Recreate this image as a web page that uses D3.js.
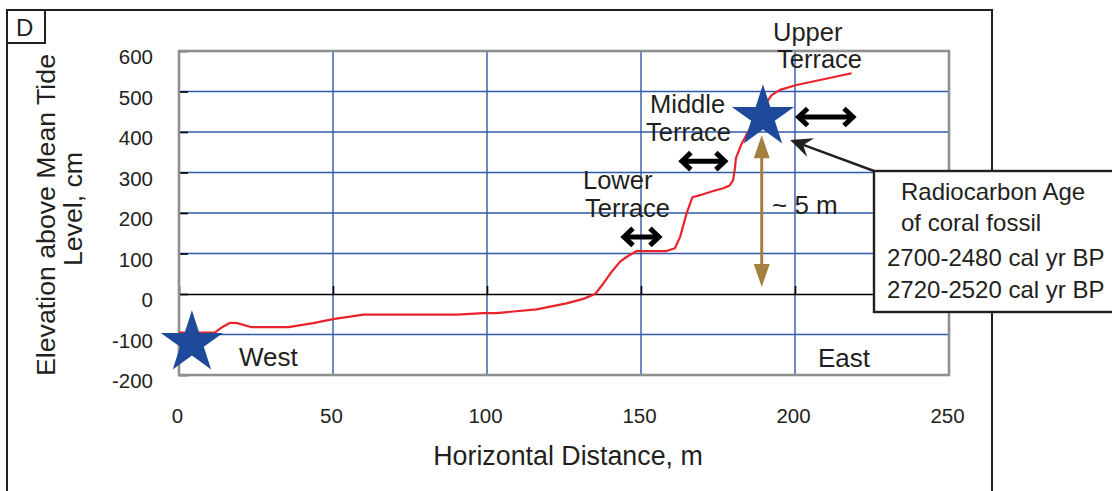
<!DOCTYPE html>
<html><head><meta charset="utf-8">
<script src="https://cdn.jsdelivr.net/npm/d3@7"></script>
<style>
body{margin:0;background:#fff;}
text{font-family:"Liberation Sans",Arial,Helvetica,sans-serif;fill:#231f20;}
</style></head>
<body><svg id="c" width="1112" height="491"></svg>
<script>
// ---- data ----
const xTicks = [0, 50, 100, 150, 200, 250];
const yTicks = [-200, -100, 0, 100, 200, 300, 400, 500, 600];
const profileDist = [0, 11.7, 14, 16.6, 18.9, 23.6, 35.5, 43.6, 50, 59.9, 82.6, 90.2, 98.8, 103.1, 116.1, 125.8, 131.3, 135.1, 137.8, 140.5, 143.2, 145.4, 148.6, 158.3, 161, 162.7, 164.8, 166.7, 169.2, 172.9, 176.7, 178.8, 179.9, 180.5, 180.8, 182.6, 184.8, 187, 189.5, 191.3, 192.4, 195.1, 200.5, 218.4];
const profileElev = [-95, -95, -82, -71, -72, -82, -82, -72, -62, -51, -51, -51, -47, -47, -38, -23, -12, 0, 26, 55, 80, 92, 106, 106, 113, 141, 199, 239, 244, 253, 261, 268, 281, 310, 335, 370, 401, 425, 455, 479, 491, 504, 516, 545];
const starDist = [4.2, 189.6];
const starElev = [-121, 437];
const terraceArrowStart = [143.5, 162.3, 200.2];
const terraceArrowEnd = [156.8, 178.2, 219.8];
const terraceArrowElev = [141, 328, 437];
const rangeArrowDist = [189.2];
const rangeArrowTop = [392];
const rangeArrowBottom = [17];
const terraceLabels = [["Upper", "Terrace"], ["Middle", "Terrace"], ["Lower", "Terrace"]];
const boxLines = ["Radiocarbon Age", "of coral fossil", "2700-2480 cal yr BP", "2720-2520 cal yr BP"];

// ---- layout ----
const svg = d3.select("#c");
const x = d3.scaleLinear().domain([0, 250]).range([179, 949]);
const y = d3.scaleLinear().domain([-200, 600]).range([375, 51]);
const BLUE = "#2f5aa8", RED = "#e8232b", STAR = "#1f4a9c", BROWN = "#a3803f", INK = "#231f20";

// outer frame + D box
svg.append("rect").attr("x", 7).attr("y", 10).attr("width", 985).attr("height", 500)
  .attr("fill", "none").attr("stroke", INK).attr("stroke-width", 2);
svg.append("rect").attr("x", 7).attr("y", 10).attr("width", 38).attr("height", 33)
  .attr("fill", "#fff").attr("stroke", INK).attr("stroke-width", 2);
svg.append("text").attr("x", 16).attr("y", 35.5).attr("font-size", 24).text("D");

// grid
const hGrid = yTicks.filter(v => v !== 0 && v !== 600 && v !== -200);
svg.append("g").selectAll("line").data(hGrid).join("line")
  .attr("x1", x(0)).attr("x2", x(250)).attr("y1", d => y(d)).attr("y2", d => y(d))
  .attr("stroke", BLUE).attr("stroke-width", 1.4);
const vGrid = xTicks.filter(v => v > 0 && v < 250);
svg.append("g").selectAll("line").data(vGrid).join("line")
  .attr("x1", d => x(d)).attr("x2", d => x(d)).attr("y1", y(600)).attr("y2", y(-200))
  .attr("stroke", BLUE).attr("stroke-width", 1.4);

// zero axis with upward ticks
const zAx = svg.append("g").attr("transform", `translate(0,${y(0)})`)
  .call(d3.axisTop(x).tickValues(xTicks).tickSize(8).tickSizeOuter(0).tickFormat(""));
zAx.select(".domain").attr("stroke", "#000").attr("stroke-width", 1.6);
zAx.selectAll(".tick line").attr("stroke", "#000").attr("stroke-width", 1.6);

// y axis
const yAx = svg.append("g").attr("transform", `translate(${x(0)},0)`)
  .call(d3.axisLeft(y).tickValues(yTicks).tickSize(-9).tickPadding(26).tickFormat(d => String(d)));
yAx.select(".domain").remove();
yAx.selectAll(".tick line").attr("stroke", "#000").attr("stroke-width", 1.6);
yAx.selectAll(".tick text").attr("font-size", 20.5).attr("dy", "0.63em")
  .attr("font-family", "Liberation Sans, Arial, sans-serif").attr("fill", INK);

// x axis labels
const xAx = svg.append("g").attr("transform", `translate(-2,${y(-200)})`)
  .call(d3.axisBottom(x).tickValues(xTicks).tickSize(0).tickPadding(33).tickFormat(d => String(d)));
xAx.select(".domain").remove();
xAx.selectAll(".tick text").attr("font-size", 20.5)
  .attr("font-family", "Liberation Sans, Arial, sans-serif").attr("fill", INK);

// plot border
svg.append("rect").attr("x", x(0)).attr("y", y(600)).attr("width", x(250) - x(0)).attr("height", y(-200) - y(600))
  .attr("fill", "none").attr("stroke", "#8f8f8f").attr("stroke-width", 2.6);

// titles
svg.append("text").attr("x", 568).attr("y", 465).attr("text-anchor", "middle").attr("font-size", 26.8)
  .text("Horizontal Distance, m");
svg.append("text").attr("transform", "translate(55,215) rotate(-90)").attr("text-anchor", "middle")
  .attr("font-size", 26.7).text("Elevation above Mean Tide");
svg.append("text").attr("transform", "translate(82,209) rotate(-90)").attr("text-anchor", "middle")
  .attr("font-size", 26.7).text("Level, cm");

// profile line
const pts = profileDist.map((d, i) => [d, profileElev[i]]);
svg.append("path").datum(pts)
  .attr("d", d3.line().x(d => x(d[0])).y(d => y(d[1])).curve(d3.curveLinear))
  .attr("fill", "none").attr("stroke", RED).attr("stroke-width", 2.2).attr("stroke-linejoin", "round");

// labels West / East
svg.append("text").attr("x", 239).attr("y", 366).attr("font-size", 26).text("West");
svg.append("text").attr("x", 818).attr("y", 367).attr("font-size", 26).text("East");

// terrace labels
const labelPos = [[[773, 41], [777, 68]], [[650, 113], [646, 141]], [[583, 189], [585, 217]]];
terraceLabels.forEach((lines, i) => {
  lines.forEach((t, j) => {
    svg.append("text").attr("x", labelPos[i][j][0]).attr("y", labelPos[i][j][1]).attr("font-size", 25.5).text(t);
  });
});

// stars
const star = d3.symbol().type(d3.symbolStar).size(1200);
svg.append("g").selectAll("path").data(starDist).join("path")
  .attr("d", star).attr("transform", (d, i) => `translate(${x(d)},${y(starElev[i])})`)
  .attr("fill", STAR);

// terrace double arrows (open chevron heads)
const ta = svg.append("g").attr("stroke", "#000").attr("stroke-width", 5).attr("fill", "none")
  .attr("stroke-linecap", "butt").attr("stroke-linejoin", "miter");
terraceArrowStart.forEach((s, i) => {
  const x1 = x(s) + 3, x2 = x(terraceArrowEnd[i]) - 3, yy = y(terraceArrowElev[i]);
  ta.append("line").attr("x1", x1).attr("x2", x2).attr("y1", yy).attr("y2", yy);
  ta.append("path").attr("d", `M${x1 + 9},${yy - 8.5}L${x1},${yy}L${x1 + 9},${yy + 8.5}`);
  ta.append("path").attr("d", `M${x2 - 9},${yy - 8.5}L${x2},${yy}L${x2 - 9},${yy + 8.5}`);
});

// brown range arrow
rangeArrowDist.forEach((d, i) => {
  const xx = x(d), yt = y(rangeArrowTop[i]), yb = y(rangeArrowBottom[i]);
  svg.append("line").attr("x1", xx).attr("x2", xx).attr("y1", yt + 15).attr("y2", yb - 15)
    .attr("stroke", BROWN).attr("stroke-width", 3);
  svg.append("path").attr("d", `M${xx},${yt}L${xx + 8},${yt + 23}L${xx - 8},${yt + 23}Z`).attr("fill", BROWN);
  svg.append("path").attr("d", `M${xx},${yb}L${xx + 8},${yb - 23}L${xx - 8},${yb - 23}Z`).attr("fill", BROWN);
});
svg.append("text").attr("x", 772).attr("y", 214).attr("font-size", 26).text("~ 5 m");

// annotation arrow to star
const tipX = x(198.4), tipY = y(380);
const bx = 874, by = 171;
const ang = Math.atan2(by - tipY, bx - tipX);
svg.append("line").attr("x1", bx).attr("y1", by).attr("x2", tipX + 12 * Math.cos(ang)).attr("y2", tipY + 12 * Math.sin(ang))
  .attr("stroke", INK).attr("stroke-width", 2.4);
const L = 22, W = 10, back = 14;
const hx = tipX + L * Math.cos(ang), hy = tipY + L * Math.sin(ang);
const nx = -Math.sin(ang), ny = Math.cos(ang);
const mx = tipX + back * Math.cos(ang), my = tipY + back * Math.sin(ang);
svg.append("path").attr("d",
  `M${tipX},${tipY}L${hx + W * nx},${hy + W * ny}L${mx},${my}L${hx - W * nx},${hy - W * ny}Z`)
  .attr("fill", INK);

// annotation box
svg.append("rect").attr("x", bx).attr("y", by).attr("width", 260).attr("height", 141)
  .attr("fill", "#fff").attr("stroke", INK).attr("stroke-width", 2.4);
const boxX = [901, 901, 887, 887], boxY = [200, 231, 266, 298];
boxLines.forEach((t, i) => {
  svg.append("text").attr("x", boxX[i]).attr("y", boxY[i]).attr("font-size", 24).text(t);
});
</script></body></html>
